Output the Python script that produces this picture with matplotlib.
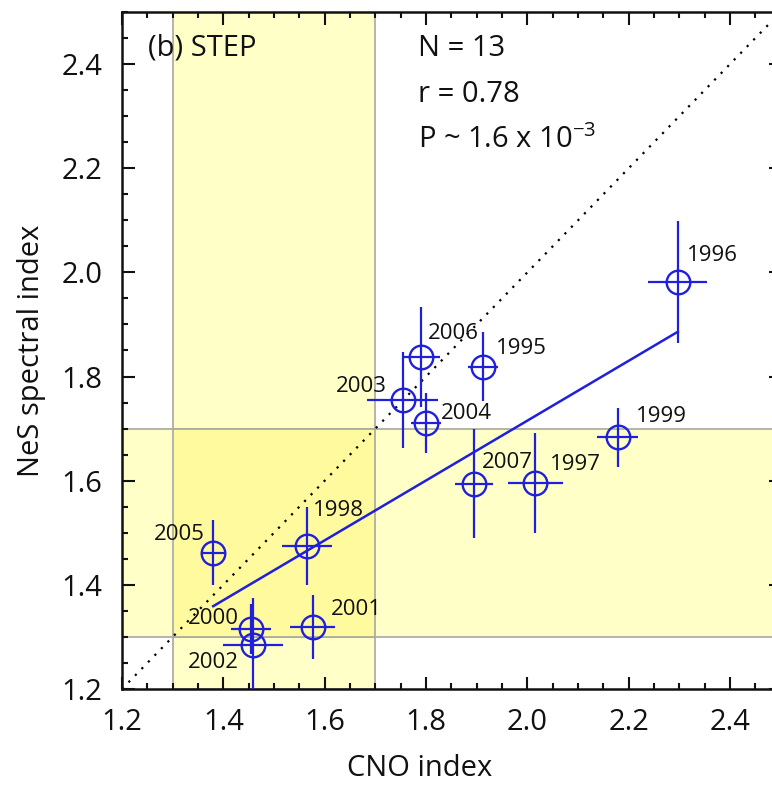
import matplotlib
matplotlib.use("Agg")
import matplotlib.pyplot as plt
from matplotlib.patches import Rectangle
from matplotlib.ticker import MultipleLocator

plt.rcParams['font.family'] = ['Open Sans', 'DejaVu Sans']

# ---- data ----
years = [1995, 1996, 1997, 1998, 1999, 2000, 2001, 2002, 2003, 2004, 2005, 2006, 2007]
cno = [1.912, 2.297, 2.016, 1.565, 2.178, 1.455, 1.576, 1.458, 1.754, 1.800, 1.380, 1.790, 1.895]
nes = [1.819, 1.981, 1.596, 1.475, 1.683, 1.316, 1.319, 1.284, 1.755, 1.711, 1.462, 1.838, 1.594]
cno_err = [0.030, 0.058, 0.055, 0.050, 0.040, 0.040, 0.045, 0.059, 0.070, 0.030, 0.025, 0.038, 0.038]
nes_err = [0.066, 0.117, 0.096, 0.075, 0.057, 0.048, 0.062, 0.090, 0.092, 0.058, 0.062, 0.096, 0.105]
fit_x = [1.380, 2.297]
fit_y = [1.359, 1.886]
band_lo, band_hi = 1.3, 1.7
stats = ["N = 13", "r = 0.78", r"P ~ 1.6 x 10$^{\mathregular{-3}}$"]
panel = "(b) STEP"
xticks = [1.2, 1.4, 1.6, 1.8, 2.0, 2.2, 2.4]
yticks = [1.2, 1.4, 1.6, 1.8, 2.0, 2.2, 2.4]

# label offsets in pixels (dx, dy, ha)
label_off = {
    1995: (13, 18, 'left'), 1996: (9, 27, 'left'), 1997: (14, 18, 'left'),
    1998: (6, 35, 'left'), 1999: (18, 21, 'left'), 2000: (-12, 10, 'right'),
    2001: (18, 18, 'left'), 2002: (-14, -17, 'right'), 2003: (-16, 13, 'right'),
    2004: (15, 9, 'left'), 2005: (-8, 18, 'right'), 2006: (7, 23, 'left'),
    2007: (8, 21, 'left'),
}

W, H = 772, 787
fig = plt.figure(figsize=(W / 100, H / 100), dpi=100)
ax = fig.add_axes([122 / W, 98 / H, 658.7 / W, 677 / H])
xmin, xmax, ymin, ymax = 1.2, 2.5, 1.2, 2.5
ax.set_xlim(xmin, xmax)
ax.set_ylim(ymin, ymax)

light = '#FFFFC8'
dark = '#FFFA9E'
edge = '#A8A8A0'
ax.add_patch(Rectangle((band_lo, ymin), band_hi - band_lo, ymax - ymin,
                       facecolor=light, edgecolor=edge, lw=1.2, zorder=0))
ax.add_patch(Rectangle((xmin, band_lo), xmax - xmin, band_hi - band_lo,
                       facecolor=light, edgecolor=edge, lw=1.2, zorder=0))
ax.add_patch(Rectangle((band_lo, band_lo), band_hi - band_lo, band_hi - band_lo,
                       facecolor=dark, edgecolor=edge, lw=1.2, zorder=0.5))

ax.plot([xmin, xmax], [ymin, ymax], linestyle=(0, (1, 3.2)), color='black', lw=1.6, zorder=1)

blue = '#2020DC'
ax.errorbar(cno, nes, xerr=cno_err, yerr=nes_err, fmt='o', ms=17, mfc='none',
            mec=blue, mew=1.7, ecolor=blue, elinewidth=1.6, capsize=0, zorder=3)
ax.plot(fit_x, fit_y, color=blue, lw=1.8, zorder=2)

for yr, x, y in zip(years, cno, nes):
    dx, dy, ha = label_off[yr]
    ax.annotate(str(yr), (x, y), xytext=(dx, dy), textcoords='offset pixels',
                ha=ha, va='center', fontsize=16, color='#111111', zorder=4)

ax.text(148 / W, 1 - 48 / H, panel, transform=fig.transFigure, fontsize=21,
        ha='left', va='center', color='#111111')
for i, s in enumerate(stats):
    ax.text(418 / W, 1 - (48 + 46 * i) / H, s, transform=fig.transFigure,
            fontsize=21, ha='left', va='center', color='#111111')

ax.set_xticks(xticks)
ax.set_yticks(yticks)
ax.set_xticklabels([f"{t:.1f}" for t in xticks])
ax.set_yticklabels([f"{t:.1f}" for t in yticks])
ax.xaxis.set_minor_locator(MultipleLocator(0.05))
ax.yaxis.set_minor_locator(MultipleLocator(0.05))
ax.tick_params(which='both', direction='in', top=True, right=True, width=1.5, color='#111111')
ax.tick_params(which='major', length=9, labelsize=21, pad=14, labelcolor='#111111')
ax.tick_params(which='minor', length=4.5)
for sp in ax.spines.values():
    sp.set_linewidth(1.8)
    sp.set_color('#111111')
ax.spines['right'].set_visible(False)

ax.set_xlabel("CNO index", fontsize=21, color='#111111')
ax.set_ylabel("NeS spectral index", fontsize=21, color='#111111')
ax.xaxis.set_label_coords((420 - 122) / 658.7, -(768 - 689) / 677, transform=ax.transAxes)
ax.yaxis.set_label_coords(-(122 - 32) / 658.7, 0.5)
ax.xaxis.label.set_va('center')
ax.yaxis.label.set_va('center')

fig.savefig("out.png", dpi=100)
